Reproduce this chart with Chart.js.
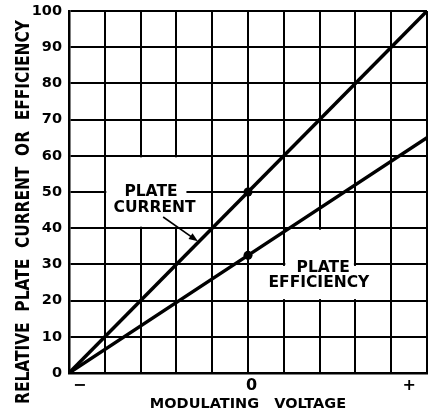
<!DOCTYPE html>
<html>
<head>
<meta charset="utf-8">
<script src="https://cdn.jsdelivr.net/npm/chart.js@4"></script>
<style>
  html, body { margin: 0; padding: 0; background: #fff; }
  #wrap { width: 428px; height: 414px; position: relative; }
</style>
</head>
<body>
<div id="wrap"><canvas id="chart"></canvas></div>
<script>
// ── Data ────────────────────────────────────────────────────────────────────
const voltage = [-5, 0, 5];
const plateCurrent = [0, 50, 100];
const plateEfficiency = [0, 32.5, 65];
const markerRadius = [0, 4.5, 0];

const xTickValues = [-4.7, 0.1, 4.5];
const xTickLabels = ['\u2212', '0', '+'];

const xTitle = 'MODULATING   VOLTAGE';
const yTitle = 'RELATIVE  PLATE  CURRENT  OR  EFFICIENCY';

const FONT = '"DejaVu Sans", "Liberation Sans", sans-serif';

function points(ys) {
    return voltage.map((v, i) => ({ x: v, y: ys[i] }));
}

// labels, arrow and rotated y title drawn on the canvas
const notes = {
    id: 'notes',
    beforeDatasetsDraw(chart) {
        const { ctx, scales: { x, y } } = chart;
        const px = v => x.getPixelForValue(v);
        const py = v => y.getPixelForValue(v);

        ctx.save();
        // grid is left out behind the words
        ctx.fillStyle = '#fff';
        const box = (x0, x1, y0, y1, extBottom) => {
            const l = px(x0) + 1.5, r = px(x1) - 1.5;
            const t = py(y1) + 1.5, b = py(y0) + (extBottom ? 1.5 : -1.5);
            ctx.fillRect(l, t, r - l, b - t);
        };
        box(-4, -1, 40, 60, false);
        box(1, 3, 30, 40, true);
        box(0, 4, 20, 30, false);

        // dash after "PLATE" on the 50 line
        ctx.strokeStyle = '#000';
        ctx.lineWidth = 2;
        ctx.beginPath();
        ctx.moveTo(px(-1.72), py(50));
        ctx.lineTo(px(-1), py(50));
        ctx.stroke();

        ctx.fillStyle = '#000';
        ctx.font = 'bold 15.5px ' + FONT;
        ctx.textAlign = 'center';
        ctx.textBaseline = 'middle';
        ctx.fillText('PLATE', px(-2.71), py(50));
        ctx.fillText('CURRENT', px(-2.61), py(45.6));
        ctx.fillText('PLATE', px(2.1), py(29.0));
        ctx.fillText('EFFICIENCY', px(1.98), py(24.9));

        // arrow to the plate current line
        const ax0 = px(-2.37), ay0 = py(43.1);
        const ax1 = px(-1.4), ay1 = py(36.4);
        const ang = Math.atan2(ay1 - ay0, ax1 - ax0);
        ctx.lineWidth = 1.6;
        ctx.beginPath();
        ctx.moveTo(ax0, ay0);
        ctx.lineTo(ax1 - 6 * Math.cos(ang), ay1 - 6 * Math.sin(ang));
        ctx.stroke();
        ctx.beginPath();
        ctx.moveTo(ax1, ay1);
        ctx.lineTo(ax1 - 9 * Math.cos(ang) + 3.5 * Math.sin(ang), ay1 - 9 * Math.sin(ang) - 3.5 * Math.cos(ang));
        ctx.lineTo(ax1 - 9 * Math.cos(ang) - 3.5 * Math.sin(ang), ay1 - 9 * Math.sin(ang) + 3.5 * Math.cos(ang));
        ctx.closePath();
        ctx.fill();

        // y title, tall letters like the original lettering
        ctx.translate(24, 212);
        ctx.rotate(-Math.PI / 2);
        ctx.scale(0.77, 1);
        ctx.font = 'bold 20px ' + FONT;
        ctx.fillText(yTitle, 0, 0);
        ctx.restore();
    }
};

new Chart(document.getElementById('chart'), {
    type: 'line',
    data: {
        datasets: [{
            label: 'Plate current',
            data: points(plateCurrent),
            borderColor: '#000',
            borderWidth: 3.5,
            pointRadius: markerRadius,
            pointBackgroundColor: '#000',
            pointBorderWidth: 0
        }, {
            label: 'Plate efficiency',
            data: points(plateEfficiency),
            borderColor: '#000',
            borderWidth: 3.5,
            pointRadius: markerRadius,
            pointBackgroundColor: '#000',
            pointBorderWidth: 0
        }]
    },
    options: {
        responsive: true,
        maintainAspectRatio: false,
        animation: false,
        events: [],
        layout: { padding: { top: 11, right: 1, left: 0, bottom: 0 } },
        plugins: {
            legend: { display: false },
            tooltip: { enabled: false }
        },
        scales: {
            x: {
                type: 'linear',
                min: -5,
                max: 5,
                position: 'bottom',
                ticks: { display: false, stepSize: 1 },
                grid: { color: '#000', lineWidth: 2, drawTicks: false },
                border: { color: '#000', width: 2.5 }
            },
            xl: {
                type: 'linear',
                min: -5,
                max: 5,
                position: 'bottom',
                grid: { display: false, drawTicks: false },
                border: { display: false },
                afterBuildTicks: scale => {
                    scale.ticks = xTickValues.map(v => ({ value: v }));
                },
                ticks: {
                    autoSkip: false,
                    maxRotation: 0,
                    padding: 3,
                    color: '#000',
                    font: { family: FONT, size: 16, weight: 'bold' },
                    callback: v => xTickLabels[xTickValues.indexOf(v)]
                },
                title: {
                    display: true,
                    text: xTitle,
                    color: '#000',
                    font: { family: FONT, size: 14.5, weight: 'bold' },
                    padding: { top: 0, bottom: 1 }
                },
                afterFit: scale => { scale.height = 41; }
            },
            y: {
                min: 0,
                max: 100,
                ticks: {
                    stepSize: 10,
                    padding: 7,
                    color: '#000',
                    font: { family: FONT, size: 14.5, weight: 'bold' }
                },
                grid: { color: '#000', lineWidth: 2, drawTicks: false },
                border: { color: '#000', width: 2.5 },
                afterFit: scale => {
                    scale.width = 69;
                    scale.paddingTop = 0;
                    scale.paddingBottom = 0;
                }
            }
        }
    },
    plugins: [notes]
});
</script>
</body>
</html>
